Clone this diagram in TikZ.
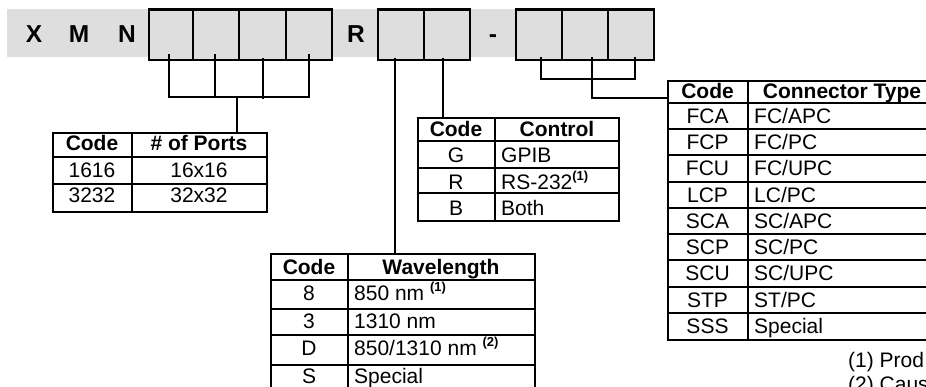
\documentclass[tikz,border=0pt]{standalone}
\usepackage{fontspec}
\setmainfont{Liberation Sans}
\usetikzlibrary{calc}
\definecolor{bandgrey}{HTML}{DEDEDE}
\tikzset{
  ln/.style={line width=2.4pt},
  cellbox/.style={draw, line width=2.4pt, fill=bandgrey, inner sep=0pt, minimum height=50.5pt},
  tbl/.style={draw, line width=2.4pt, inner sep=0pt, anchor=north west},
  tx/.style={inner sep=0pt, anchor=base, font=\fontsize{21}{25}\selectfont},
  txl/.style={tx, anchor=base west},
  hd/.style={inner sep=0pt, anchor=base, font=\bfseries\fontsize{21}{25}\selectfont},
  big/.style={inner sep=0pt, anchor=base, font=\bfseries\fontsize{24.5}{29}\selectfont},
}
\newcommand{\fnm}[1]{\raisebox{8.5pt}{\bfseries\fontsize{13}{14}\selectfont(#1)}}
\begin{document}
\begin{tikzpicture}[x=1pt,y=-1pt]
\useasboundingbox (0,0) rectangle (926,386);
\clip (0,0) rectangle (926,386);

% grey band
\fill[bandgrey] (7,9) rectangle (654,57);
\node[big] (lx) at (34,42.5) {X};
\node[big] (lm) at (79,42.5) {M};
\node[big] (ln) at (127,42.5) {N};
\node[big] (lr) at (356,42.5) {R};
\node[big] (ld) at (493,42.5) {-};

% boxes
\node[cellbox, minimum width=44pt] (b1) at (171,34.75) {};
\node[cellbox, minimum width=46pt] (b2) at (216,34.75) {};
\node[cellbox, minimum width=47pt] (b3) at (262.5,34.75) {};
\node[cellbox, minimum width=46pt] (b4) at (309,34.75) {};
\node[cellbox, minimum width=46pt] (c1) at (401,34.75) {};
\node[cellbox, minimum width=46pt] (c2) at (447,34.75) {};
\node[cellbox, minimum width=46pt] (d1) at (539,34.75) {};
\node[cellbox, minimum width=46pt] (d2) at (585,34.75) {};
\node[cellbox, minimum width=46pt] (d3) at (631,34.75) {};

% ---------- Ports table ----------
\node[tbl, minimum width=214pt, minimum height=79pt] (tP) at (52,132) {};
\draw[ln] (132,132) -- (132,211);
\draw[ln] (52,157) -- (266,157);
\draw[ln] (52,184) -- (266,184);
\node[hd] (tPh1) at (92,150) {Code};
\node[hd] (tPh2) at (199,150) {\# of Ports};
\node[tx] (tPa1) at (92,177) {1616};
\node[tx] (tPa2) at (199,177) {16x16};
\node[tx] (tPb1) at (92,202) {3232};
\node[tx] (tPb2) at (199,202) {32x32};

% ---------- Control table ----------
\node[tbl, minimum width=201pt, minimum height=103pt] (tK) at (417,117) {};
\draw[ln] (495,117) -- (495,220);
\draw[ln] (417,141) -- (618,141);
\draw[ln] (417,168) -- (618,168);
\draw[ln] (417,193) -- (618,193);
\node[hd] (tKh1) at (456,136) {Code};
\node[hd] (tKh2) at (557,136) {Control};
\node[tx] (tKa1) at (456,162) {G};
\node[txl] (tKa2) at (501,162) {GPIB};
\node[tx] (tKb1) at (456,189) {R};
\node[txl] (tKb2) at (501,189) {RS-232\fnm{1}};
\node[tx] (tKc1) at (456,215) {B};
\node[txl] (tKc2) at (501,215) {Both};

% ---------- Wavelength table ----------
\node[tbl, minimum width=264pt, minimum height=139pt] (tW) at (270,253) {};
\draw[ln] (348,253) -- (348,392);
\draw[ln] (270,280) -- (534,280);
\draw[ln] (270,309) -- (534,309);
\draw[ln] (270,335) -- (534,335);
\draw[ln] (270,365) -- (534,365);
\node[hd] (tWh1) at (309,274) {Code};
\node[hd] (tWh2) at (441,274) {Wavelength};
\node[tx] (tWa1) at (309,300) {8};
\node[txl] (tWa2) at (354,300) {850 nm \fnm{1}};
\node[tx] (tWb1) at (309,328) {3};
\node[txl] (tWb2) at (354,328) {1310 nm};
\node[tx] (tWc1) at (309,355) {D};
\node[txl] (tWc2) at (354,355) {850/1310 nm \fnm{2}};
\node[tx] (tWd1) at (309,383) {S};
\node[txl] (tWd2) at (354,383) {Special};

% ---------- Connector table ----------
\node[tbl, minimum width=268pt, minimum height=259pt] (tC) at (667,80) {};
\draw[ln] (748,80) -- (748,339);
\foreach \yy in {103,129,155,182,208,234,260,287,313}
  \draw[ln] (667,\yy) -- (935,\yy);
\node[hd] (tCh1) at (707.5,98) {Code};
\node[hd] (tCh2) at (842,98) {Connector Type};
\foreach \code/\typ/\yy [count=\i] in {FCA/FC\slash APC/123, FCP/FC\slash PC/149.5, FCU/FC\slash UPC/175.5,
   LCP/LC\slash PC/202, SCA/SC\slash APC/228, SCP/SC\slash PC/254.5, SCU/SC\slash UPC/280.5,
   STP/ST\slash PC/307, SSS/Special/333} {
  \node[tx] (tCc\i) at (707.5,\yy) {\code};
  \node[txl] (tCt\i) at (754,\yy) {\typ};
}

% ---------- connectors ----------
% ports
\coordinate (p1) at (169,54);
\coordinate (p2) at (215,54);
\coordinate (p3) at (263,58);
\coordinate (p4) at (309,54);
\coordinate (pj) at (237,97);
\draw[ln] (p1) -- (p1 |- pj) -- (p4 |- pj) -- (p4);
\draw[ln] (p2) -- (p2 |- pj);
\draw[ln] (p3) -- (263,99);
\draw[ln] (pj) -- (pj |- tP.north);
% wavelength
\coordinate (w0) at (395,58);
\draw[ln] (w0) -- (w0 |- tW.north);
% control
\coordinate (k0) at (443,58);
\draw[ln] (k0) -- (k0 |- tK.north);
% connector type
\coordinate (e1) at (541,57);
\coordinate (e2) at (592,57);
\coordinate (e3) at (635,57);
\coordinate (eh) at (592,79);
\coordinate (cj) at (592,98);
\draw[ln] (e1) -- (e1 |- eh) -- (e3 |- eh) -- (e3);
\draw[ln] (e2) -- (cj) -- (cj -| tC.west);

% footnotes
\node[txl] (f1) at (848,367) {(1) Prod};
\node[txl] (f2) at (848,391) {(2) Caus};
\end{tikzpicture}
\end{document}
